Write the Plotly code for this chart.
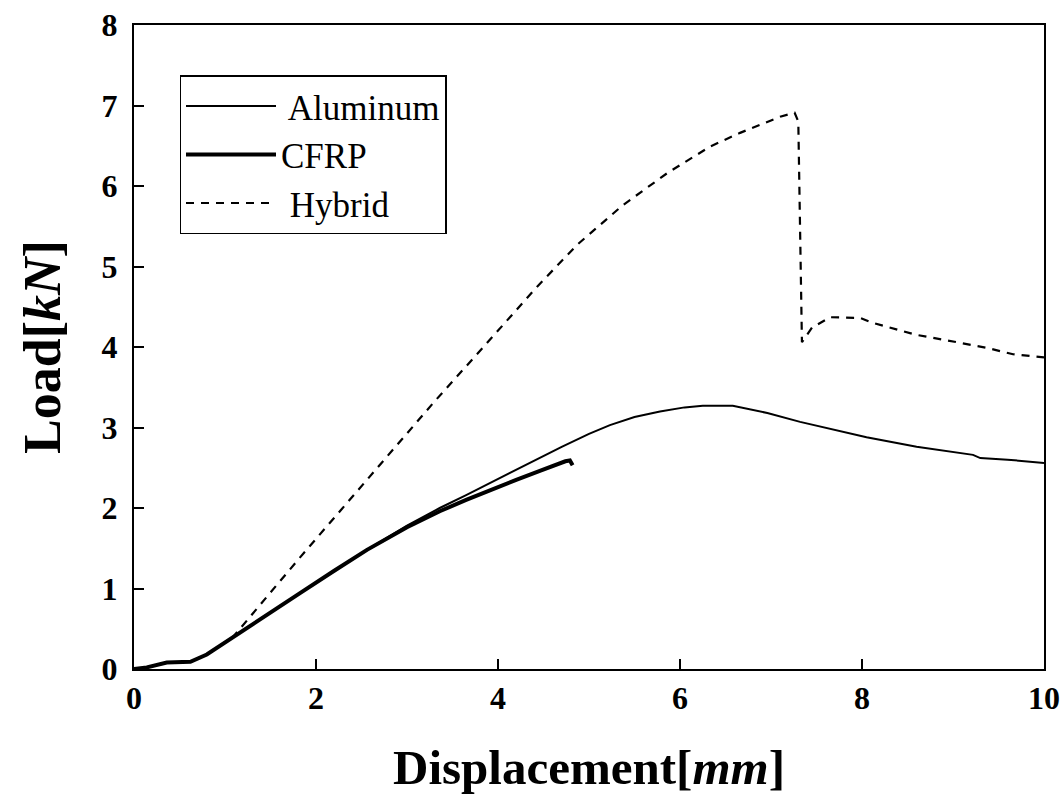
import plotly.graph_objects as go

# Aluminum
al_x = [0.0, 0.14, 0.36, 0.62, 0.80, 1.09, 1.40, 1.82, 2.20, 2.56, 3.00, 3.36, 3.65, 3.91, 4.20, 4.46, 4.70, 5.00, 5.23, 5.50, 5.78, 6.05, 6.25, 6.58, 6.96, 7.32, 7.70, 8.05, 8.60, 9.00, 9.22, 9.30, 9.60, 10.0]
al_y = [0.0, 0.02, 0.08, 0.09, 0.18, 0.40, 0.63, 0.94, 1.22, 1.48, 1.78, 2.00, 2.16, 2.31, 2.48, 2.63, 2.76, 2.92, 3.03, 3.13, 3.20, 3.25, 3.27, 3.27, 3.18, 3.07, 2.97, 2.88, 2.76, 2.69, 2.66, 2.62, 2.60, 2.56]

# CFRP
cf_x = [0.0, 0.14, 0.36, 0.62, 0.80, 1.09, 1.40, 1.82, 2.20, 2.56, 3.00, 3.36, 3.65, 3.91, 4.20, 4.46, 4.62, 4.74, 4.79, 4.82]
cf_y = [0.0, 0.02, 0.08, 0.09, 0.18, 0.40, 0.63, 0.94, 1.22, 1.48, 1.76, 1.96, 2.10, 2.22, 2.35, 2.46, 2.53, 2.58, 2.59, 2.53]

# Hybrid
hy_x = [0.0, 0.14, 0.36, 0.62, 0.80, 1.09, 1.82, 2.78, 3.30, 3.84, 4.15, 4.43, 4.87, 5.37, 5.86, 6.33, 6.66, 7.10, 7.26, 7.30, 7.34, 7.45, 7.65, 7.98, 8.12, 8.60, 9.04, 9.37, 9.66, 10.0]
hy_y = [0.0, 0.02, 0.08, 0.09, 0.18, 0.40, 1.38, 2.63, 3.32, 4.00, 4.40, 4.75, 5.27, 5.76, 6.16, 6.49, 6.66, 6.86, 6.91, 6.80, 4.06, 4.24, 4.37, 4.36, 4.30, 4.15, 4.06, 3.99, 3.91, 3.87]

x_ticks = [0, 2, 4, 6, 8, 10]
y_ticks = [0, 1, 2, 3, 4, 5, 6, 7, 8]

fig = go.Figure()
fig.add_trace(go.Scatter(x=al_x, y=al_y, mode="lines", name=" Aluminum",
                         line=dict(color="black", width=2)))
fig.add_trace(go.Scatter(x=cf_x, y=cf_y, mode="lines", name="CFRP",
                         line=dict(color="black", width=4)))
fig.add_trace(go.Scatter(x=hy_x, y=hy_y, mode="lines", name=" Hybrid",
                         line=dict(color="black", width=2.2, dash="8px,7px")))

font_family = "Liberation Serif, Times New Roman, serif"

fig.update_layout(
    width=1061, height=801,
    margin=dict(l=134, r=17, t=25, b=132),
    plot_bgcolor="white", paper_bgcolor="white",
    font=dict(family=font_family, color="black"),
    showlegend=True,
    legend=dict(x=0.05, y=0.922, xanchor="left", yanchor="top",
                bordercolor="black", borderwidth=1.5, bgcolor="white",
                font=dict(size=35, family=font_family, color="black"),
                itemwidth=90, tracegroupgap=0),
    xaxis=dict(range=[0, 10], tickvals=x_ticks, ticktext=[f"<b>{v}</b>" for v in x_ticks],
               showline=True, linecolor="black", linewidth=2, mirror=True,
               ticks="inside", ticklen=10, tickwidth=2, tickcolor="black",
               showgrid=False, zeroline=False, automargin=False,
               ticklabeloverflow="allow",
               tickfont=dict(size=32, family=font_family),
               title=dict(text="<b>Displacement[<i>mm</i>]</b>", font=dict(size=49, family=font_family),
                          standoff=34)),
    yaxis=dict(range=[0, 8], tickvals=y_ticks, ticktext=[f"<b>{v}</b>" for v in y_ticks],
               showline=True, linecolor="black", linewidth=2, mirror=True,
               ticks="inside", ticklen=10, tickwidth=2, tickcolor="black",
               showgrid=False, zeroline=False, automargin=False,
               ticklabelstandoff=8, ticklabeloverflow="allow",
               tickfont=dict(size=32, family=font_family),
               title=dict(text="<b>Load[<i>kN</i>]</b>", font=dict(size=52, family=font_family),
                          standoff=24)),
)

fig.write_html("out.html", config={"displayModeBar": False},
               post_script="document.body.style.margin='0px';")
